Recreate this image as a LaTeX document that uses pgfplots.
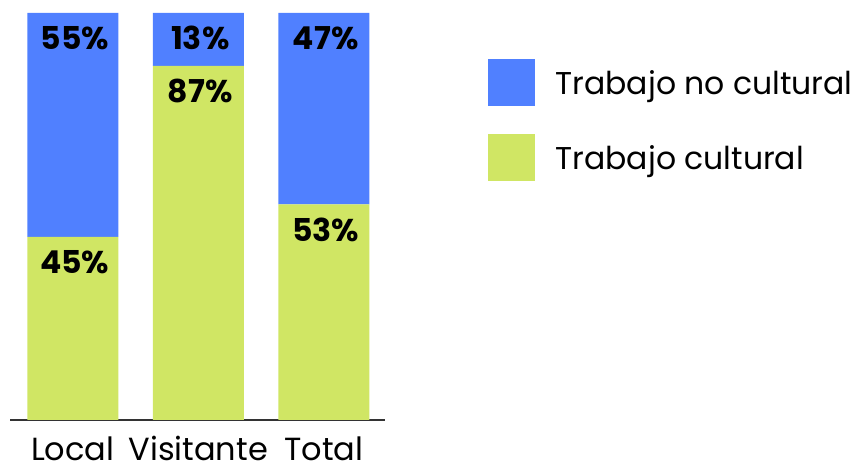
\documentclass[border=0pt]{standalone}
\usepackage{pgfplots}
\pgfplotsset{compat=1.18}
\usepackage{pgfplotstable}
\usepackage{fontspec}
\setmainfont{Poppins}
\definecolor{cblue}{RGB}{80,128,255}
\definecolor{cgreen}{RGB}{208,230,100}
\definecolor{axgray}{RGB}{51,51,51}
\pgfplotstableread{
x y lab
0 45 45
1 87 87
2 53 53
}\cultural
\pgfplotstableread{
x y lab
0 55 55
1 13 13
2 47 47
}\nocultural
\begin{document}
\begin{tikzpicture}
\begin{axis}[
  x=125.5pt, y=4.07pt,
  xmin=-0.5, xmax=2.49, ymin=0, ymax=100,
  ybar stacked, bar width=91pt,
  axis x line*=bottom, axis y line=none,
  axis line style={axgray, line width=2pt},
  xtick=data, xticklabels={Local,Visitante,Total},
  major tick length=0pt,
  xticklabel style={font=\fontsize{32}{38}\selectfont, yshift=-13pt, anchor=north},
  ytick=\empty,
  clip=false,
  /pgf/number format/assume math mode=true,
  point meta=explicit,
  visualization depends on={\thisrow{y} \as \segh},
  nodes near coords={\pgfmathprintnumber{\pgfplotspointmeta}\%},
  every node near coord/.append style={font=\bfseries\fontsize{31.5}{37}\selectfont, anchor=north, yshift={\segh*2.035pt-13pt}, xshift=2pt, inner sep=0pt, text=black},
  reverse legend,
  legend style={at={(1.272,0.887)}, anchor=north west, draw=none, fill=none, inner sep=0pt,
    font=\fontsize{31.5}{37}\selectfont, row sep=28pt, column sep=21pt,
    nodes={inner sep=0pt}},
  legend cell align=left,
  legend image code/.code={\fill[#1] (0pt,-23pt) rectangle (47pt,24pt);},
]
\addplot[fill=cgreen, draw=none] table[x=x, y=y, meta=lab] {\cultural};
\addplot[fill=cblue, draw=none] table[x=x, y=y, meta=lab] {\nocultural};
\legend{Trabajo cultural, Trabajo no cultural}
\coordinate (O) at (rel axis cs:0,0);
\end{axis}
\pgfresetboundingbox
\path ([shift={(-10pt,-43pt)}]O) rectangle ([shift={(847pt,420pt)}]O);
\end{tikzpicture}
\end{document}
